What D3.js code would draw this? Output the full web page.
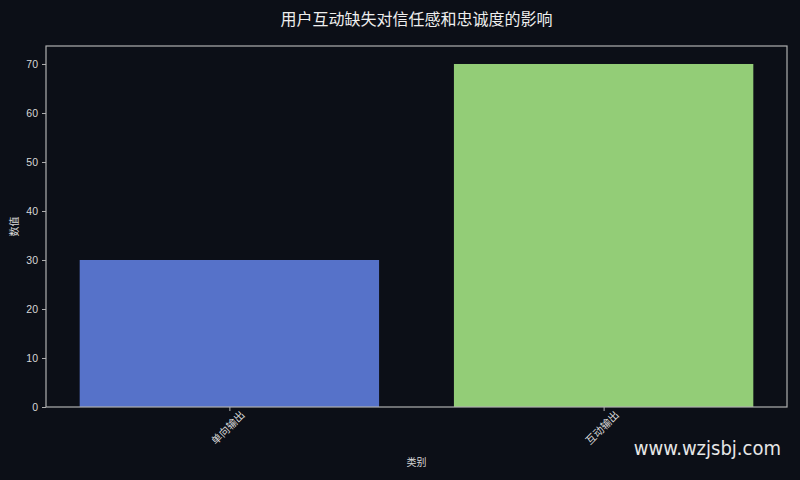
<!DOCTYPE html>
<html lang="zh">
<head>
    <meta charset="UTF-8">
    <title>用户互动缺失对信任感和忠诚度的影响</title>
    <script src="https://cdn.jsdelivr.net/npm/d3@7"></script>
    <style>
        body { margin: 0; background: #0c0f17; }
        text { font-family: "Noto Sans CJK SC", "DejaVu Sans", sans-serif; }
    </style>
</head>
<body>
<script>
    const categories = ['单向输出', '互动输出']
    const values = [30, 70]
    const colors = ['#5672c9', '#93cd77']
    const yTicks = [0, 10, 20, 30, 40, 50, 60, 70]

    const [width, height] = [800, 480]
    const margin = {left: 46, right: 13, top: 46, bottom: 73}

    const svg = d3.select('body').append('svg')
        .attr('width', width)
        .attr('height', height)
    svg.append('rect').attr('width', width).attr('height', height).attr('fill', '#0c0f17')

    // matplotlib-like x limits: bars of width 0.8 plus 5% margin
    let x = d3.scaleLinear()
        .domain([-0.49, categories.length - 1 + 0.49])
        .range([margin.left, width - margin.right])
    let y = d3.scaleLinear()
        .domain([0, 73.67])
        .range([height - margin.bottom, margin.top])

    svg.selectAll('rect.bar').data(values).enter()
        .append('rect').attr('class', 'bar')
        .attr('x', (d, i) => x(i - 0.4))
        .attr('width', x(0.8) - x(0))
        .attr('y', d => y(d))
        .attr('height', d => y(0) - y(d))
        .attr('fill', (d, i) => colors[i])

    // frame
    svg.append('rect')
        .attr('x', margin.left).attr('y', margin.top)
        .attr('width', width - margin.left - margin.right)
        .attr('height', height - margin.top - margin.bottom)
        .attr('fill', 'none').attr('stroke', '#b0b0b0').attr('stroke-width', 1.2)

    const yAxis = svg.append('g')
        .attr('transform', `translate(${margin.left},0)`)
        .call(d3.axisLeft(y).tickValues(yTicks).tickSize(4).tickPadding(4))
    yAxis.select('.domain').remove()
    yAxis.selectAll('line').attr('stroke', '#b0b0b0')
    yAxis.selectAll('text').attr('fill', '#d8d8d8').style('font-size', '10.5px')
        .style('font-family', '"Liberation Sans", Arial, sans-serif')

    const xAxis = svg.append('g')
        .attr('transform', `translate(0,${height - margin.bottom})`)
        .call(d3.axisBottom(x).tickValues(d3.range(categories.length))
            .tickFormat(i => categories[i]).tickSize(4).tickPadding(4))
    xAxis.select('.domain').remove()
    xAxis.selectAll('line').attr('stroke', '#b0b0b0')
    xAxis.selectAll('text')
        .attr('fill', '#d8d8d8').style('font-size', '10.5px')
        .attr('text-anchor', 'end')
        .attr('dy', '0.35em')
        .attr('transform', 'translate(13,6) rotate(-45)')
        .attr('y', 0)

    svg.append('text')
        .attr('x', (margin.left + width - margin.right) / 2).attr('y', 25)
        .attr('text-anchor', 'middle')
        .attr('fill', '#eeeeee').style('font-size', '16px')
        .text('用户互动缺失对信任感和忠诚度的影响')

    svg.append('text')
        .attr('x', (margin.left + width - margin.right) / 2).attr('y', 466)
        .attr('text-anchor', 'middle')
        .attr('fill', '#d8d8d8').style('font-size', '10px')
        .text('类别')

    svg.append('text')
        .attr('transform', `translate(18,${(margin.top + height - margin.bottom) / 2}) rotate(-90)`)
        .attr('text-anchor', 'middle')
        .attr('fill', '#d8d8d8').style('font-size', '10px')
        .text('数值')

    svg.append('text')
        .attr('x', 781).attr('y', 455)
        .attr('text-anchor', 'end')
        .attr('fill', '#e6e6e6').style('font-size', '20px')
        .style('font-family', '"DejaVu Sans Condensed", "Open Sans", sans-serif')
        .style('font-stretch', 'condensed')
        .text('www.wzjsbj.com')
</script>
</body>
</html>
